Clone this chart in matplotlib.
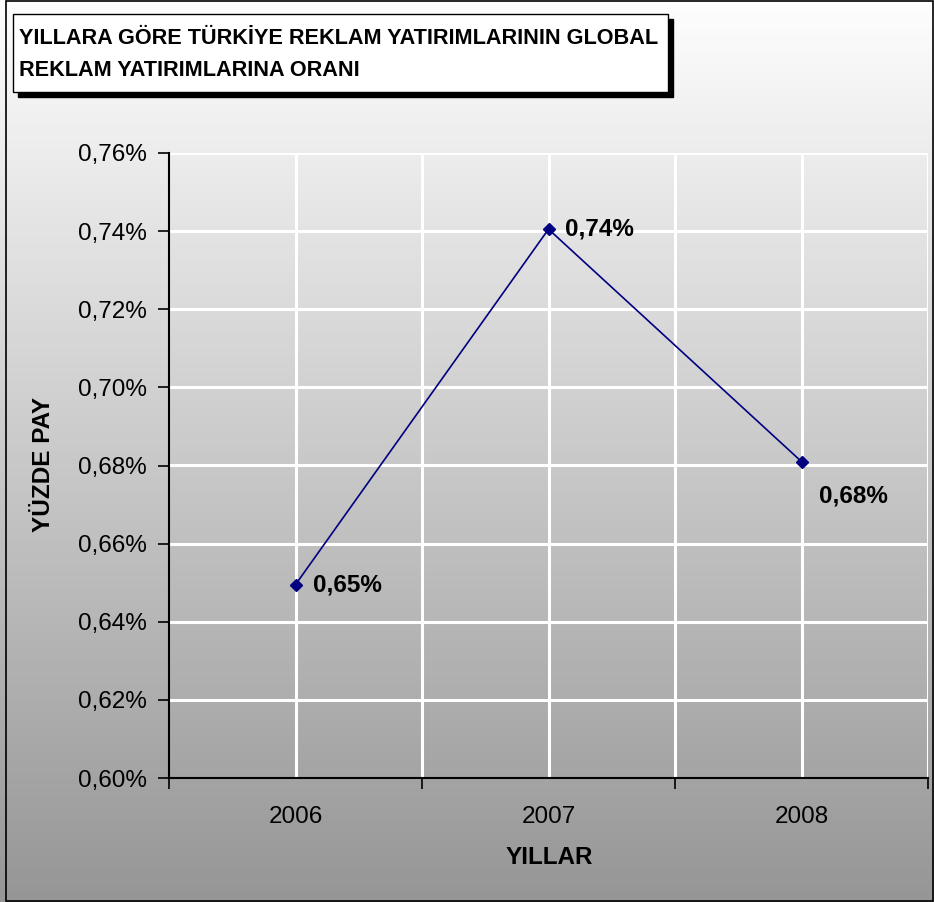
import matplotlib
matplotlib.use("Agg")
import matplotlib.pyplot as plt
import numpy as np
from matplotlib.patches import Rectangle
from matplotlib.ticker import FuncFormatter, MultipleLocator

years = ["2006", "2007", "2008"]
shares = [0.6495, 0.7405, 0.681]
labels = ["0,65%", "0,74%", "0,68%"]
title_lines = ["YILLARA GÖRE TÜRKİYE REKLAM YATIRIMLARININ GLOBAL", "REKLAM YATIRIMLARINA ORANI"]

W, H = 934, 902
DPI = 100
plt.rcParams['font.family'] = ['Liberation Sans', 'DejaVu Sans']

fig = plt.figure(figsize=(W / DPI, H / DPI), dpi=DPI)

# gradient background
bg = fig.add_axes([0, 0, 1, 1], zorder=-10)
grad = np.linspace(254, 150, 256).reshape(-1, 1) / 255.0
bg.imshow(np.dstack([grad, grad, grad]), aspect='auto', extent=[0, 1, 0, 1], origin='upper')
bg.set_axis_off()

def fx(px):
    return px / W

def fy(py):
    return 1 - py / H

# figure border
fig.patches.append(Rectangle((fx(6), fy(901)), fx(933) - fx(6), fy(1) - fy(901),
                             transform=fig.transFigure, fill=False, edgecolor='black', lw=1.2, zorder=5))

# title box with shadow
bx0, by0, bx1, by1 = 13, 14, 668, 92
fig.patches.append(Rectangle((fx(bx0 + 5), fy(by1 + 5)), fx(bx1 - bx0), (by1 - by0) / H,
                             transform=fig.transFigure, facecolor='black', edgecolor='black', zorder=5))
fig.patches.append(Rectangle((fx(bx0), fy(by1)), fx(bx1 - bx0), (by1 - by0) / H,
                             transform=fig.transFigure, facecolor='white', edgecolor='black', lw=1, zorder=6))
fig.text(fx(19), fy(38), title_lines[0], fontsize=15.6, fontweight='bold', va='center', ha='left', zorder=7)
fig.text(fx(19), fy(71), title_lines[1], fontsize=15.6, fontweight='bold', va='center', ha='left', zorder=7)

ax = fig.add_axes([fx(169), fy(778), fx(928) - fx(169), fy(153) - fy(778)])
ax.set_facecolor('none')
x = np.arange(len(years))
ax.set_xlim(-0.5, len(years) - 0.5)
ax.set_ylim(0.60, 0.76)

# gridlines
for v in np.arange(0.62, 0.7601, 0.02):
    ax.axhline(v, color='white', lw=2.2, zorder=1)
for xv in list(x) + [0.5, 1.5, 2.5]:
    ax.axvline(xv, color='white', lw=2.2, zorder=1)

ax.plot(x, shares, color='#000080', lw=1.2, marker='D', markersize=6.5,
        markerfacecolor='#000080', markeredgecolor='#000080', zorder=3, clip_on=False)

offsets = [(17, 0), (17, 0), (17, -34)]
for xi, yi, lab, off in zip(x, shares, labels, offsets):
    ax.annotate(lab, (xi, yi), xytext=(off[0] * 0.72, off[1] * 0.72), textcoords='offset points',
                fontsize=17.5, fontweight='bold', ha='left', va='center', zorder=4)

ax.yaxis.set_major_locator(MultipleLocator(0.02))
ax.yaxis.set_major_formatter(FuncFormatter(lambda v, p: f"{v:.2f}%".replace('.', ',')))
ax.set_xticks([-0.5, 0.5, 1.5, 2.5])
ax.set_xticklabels([])
ax.set_xticks(x, minor=True)
ax.set_xticklabels(years, minor=True)
ax.tick_params(axis='x', which='major', length=8, width=1.2, direction='out')
ax.tick_params(axis='x', which='minor', length=0, pad=20, labelsize=17.5)
ax.tick_params(axis='y', length=8, width=1.2, direction='out', pad=8, labelsize=17.5)

for s in ['top', 'right']:
    ax.spines[s].set_visible(False)
for s in ['left', 'bottom']:
    ax.spines[s].set_linewidth(1.5)
    ax.spines[s].set_zorder(2)

fig.text(fx(549), fy(858), "YILLAR", fontsize=17.5, fontweight='bold', ha='center', va='center')
fig.text(fx(43), fy(464), "YÜZDE PAY", fontsize=17.5, fontweight='bold', ha='center', va='center', rotation=90)

fig.savefig("out.png", dpi=DPI)
